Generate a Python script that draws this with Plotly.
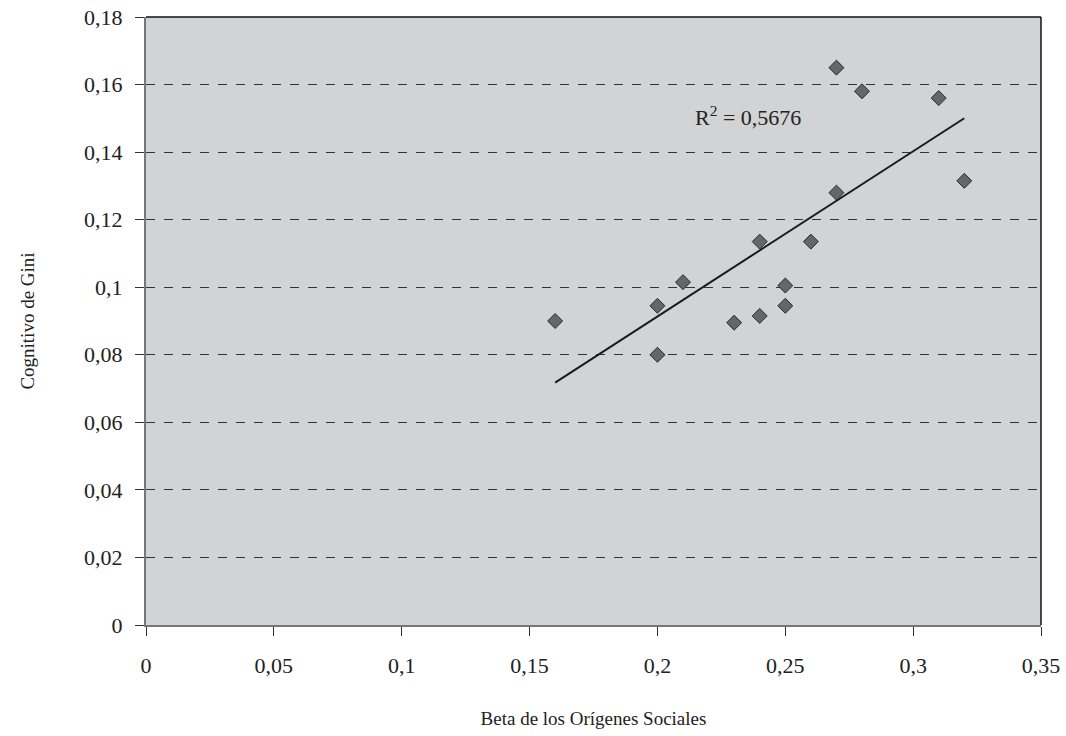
import numpy as np
import plotly.graph_objects as go

beta = [0.16, 0.20, 0.20, 0.21, 0.23, 0.24, 0.24, 0.25, 0.25, 0.26, 0.27, 0.27, 0.28, 0.31, 0.32]
gini = [0.090, 0.0945, 0.080, 0.1015, 0.0895, 0.0915, 0.1135, 0.1005, 0.0945, 0.1135, 0.165, 0.128, 0.158, 0.156, 0.1315]

x_ticks = [0, 0.05, 0.1, 0.15, 0.2, 0.25, 0.3, 0.35]
x_labels = ["0", "0,05", "0,1", "0,15", "0,2", "0,25", "0,3", "0,35"]
y_ticks = [0, 0.02, 0.04, 0.06, 0.08, 0.1, 0.12, 0.14, 0.16, 0.18]
y_labels = ["0", "0,02", "0,04", "0,06", "0,08", "0,1", "0,12", "0,14", "0,16", "0,18"]
r2_text = "R<sup>2</sup> = 0,5676"

slope, intercept = np.polyfit(beta, gini, 1)
xfit = [min(beta), max(beta)]
yfit = [slope * v + intercept for v in xfit]

FONT = "Liberation Serif, Times New Roman, serif"

fig = go.Figure()
fig.add_trace(go.Scatter(x=xfit, y=yfit, mode="lines",
                         line=dict(color="#1a1a1a", width=2), showlegend=False, hoverinfo="skip"))
fig.add_trace(go.Scatter(x=beta, y=gini, mode="markers",
                         marker=dict(symbol="diamond", size=11.5, color="#666666",
                                     line=dict(color="#2a2a2a", width=1)),
                         showlegend=False))

fig.add_annotation(x=0.2354, y=0.1507, text=r2_text, showarrow=False,
                   font=dict(family=FONT, size=22, color="#222222"))

fig.update_layout(
    width=1066, height=736,
    margin=dict(l=146, r=25, t=17, b=111),
    paper_bgcolor="white", plot_bgcolor="#d2d3d5",
    font=dict(family=FONT, size=22, color="#222222"),
    xaxis=dict(range=[0, 0.35], tickvals=x_ticks, ticktext=x_labels, automargin=False,
               showgrid=False, zeroline=False, showline=True, linecolor="#777777", linewidth=2,
               ticks="outside", ticklen=9, tickcolor="#333333", tickwidth=1,
               ticklabelstandoff=11,
               title=dict(text="Beta de los Orígenes Sociales", font=dict(size=19), standoff=34)),
    yaxis=dict(range=[0, 0.18], tickvals=y_ticks, ticktext=y_labels, automargin=False,
               showgrid=True, gridcolor="#333333", griddash="dash", gridwidth=1,
               zeroline=False, showline=True, linecolor="#777777", linewidth=2,
               ticks="outside", ticklen=9, tickcolor="#333333", tickwidth=1,
               ticklabelstandoff=8,
               title=dict(text="Cognitivo de Gini", font=dict(size=19), standoff=44)),
    shapes=[
        dict(type="line", xref="paper", yref="paper", x0=0, x1=1, y0=1, y1=1,
             line=dict(color="#111111", width=1.5)),
        dict(type="line", xref="paper", yref="paper", x0=1, x1=1, y0=0, y1=1,
             line=dict(color="#111111", width=1.5)),
    ],
)

fig.write_html("out.html", config={"displayModeBar": False},
               post_script="document.body.style.margin='0';")
